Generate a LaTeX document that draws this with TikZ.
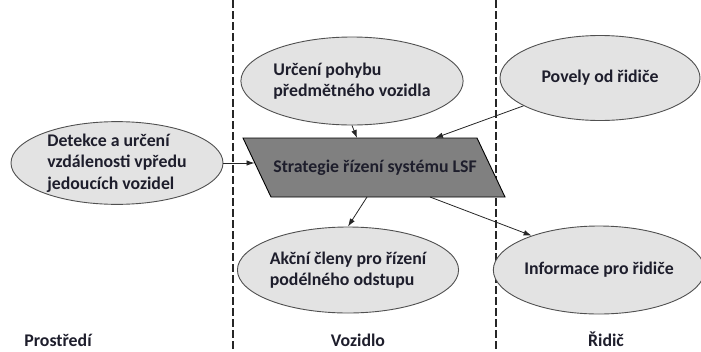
\documentclass[tikz,border=0pt]{standalone}
\usepackage{fontspec}
\setmainfont{Carlito}
\usetikzlibrary{shapes.geometric,arrows.meta}
\definecolor{ovalfill}{HTML}{E3E3E3}
\definecolor{ovalline}{HTML}{505050}
\definecolor{boxfill}{HTML}{808080}
\definecolor{inktext}{HTML}{1E1E2C}
\tikzset{
  oval/.style={ellipse, draw=ovalline, fill=ovalfill, line width=0.9pt, inner sep=0pt,
    align=left, text=inktext, font=\bfseries\fontsize{17.8}{21.5}\selectfont},
  stratbox/.style={draw=black, fill=boxfill, line width=0.9pt},
  strattext/.style={inner sep=0pt, text=inktext, font=\bfseries\fontsize{17.8}{21.5}\selectfont},
  zone/.style={anchor=base, inner sep=1pt, text=inktext, font=\bfseries\fontsize{17.8}{21.5}\selectfont},
  divider/.style={draw=black!85, line width=1.2pt, dash pattern=on 8pt off 3pt},
  flow/.style={-{Latex[length=8pt,width=5.5pt]}, draw=black!85, line width=0.8pt}
}
\begin{document}
\begin{tikzpicture}[x=1pt,y=-1pt]
  \useasboundingbox (0,0) rectangle (701,351);
  \draw[divider] (233,0) -- (233,351);
  \draw[divider] (496,0) -- (496,351);
  \draw[stratbox] (243,138) -- (477,138) -- (505,197) -- (271,197) -- cycle;
  \coordinate (stratleft) at (254.5,163);
  \coordinate (stratnorth) at (357,138);
  \coordinate (stratne) at (435,138);
  \coordinate (stratsouth) at (367,197);
  \coordinate (stratse) at (430,197);
  \path
    (117,163) node[oval, minimum width=212pt, minimum height=80pt] (detekce)
      {Detekce a určení\\vzdálenosti vpředu\\jedoucích vozidel}
    (352,81) node[oval, minimum width=215pt, minimum height=88pt] (urceni)
      {Určení pohybu\\předmětného vozidla}
    (600,78) node[oval, minimum width=200pt, minimum height=85pt] (povely)
      {Povely od řidiče}
    (375,168) node[strattext] (strategie)
      {Strategie řízení systému LSF}
    (348,270) node[oval, minimum width=210pt, minimum height=86pt] (akcni)
      {Akční členy pro řízení\\podélného odstupu}
    (599,270) node[oval, minimum width=202pt, minimum height=88pt] (informace)
      {Informace pro řidiče};
  \path
    (58,346) node[zone] (prostredi) {Prostředí}
    (358,346) node[zone] (vozidlo) {Vozidlo}
    (606,346) node[zone] (ridic) {Řidič};
  \begin{scope}[flow]
    \draw (detekce) to (stratleft);
    \draw (urceni.south) to (stratnorth);
    \draw (povely.200) to (stratne);
    \draw (stratsouth) to (akcni.north);
    \draw (stratse) to (informace.153);
  \end{scope}
\end{tikzpicture}
\end{document}
